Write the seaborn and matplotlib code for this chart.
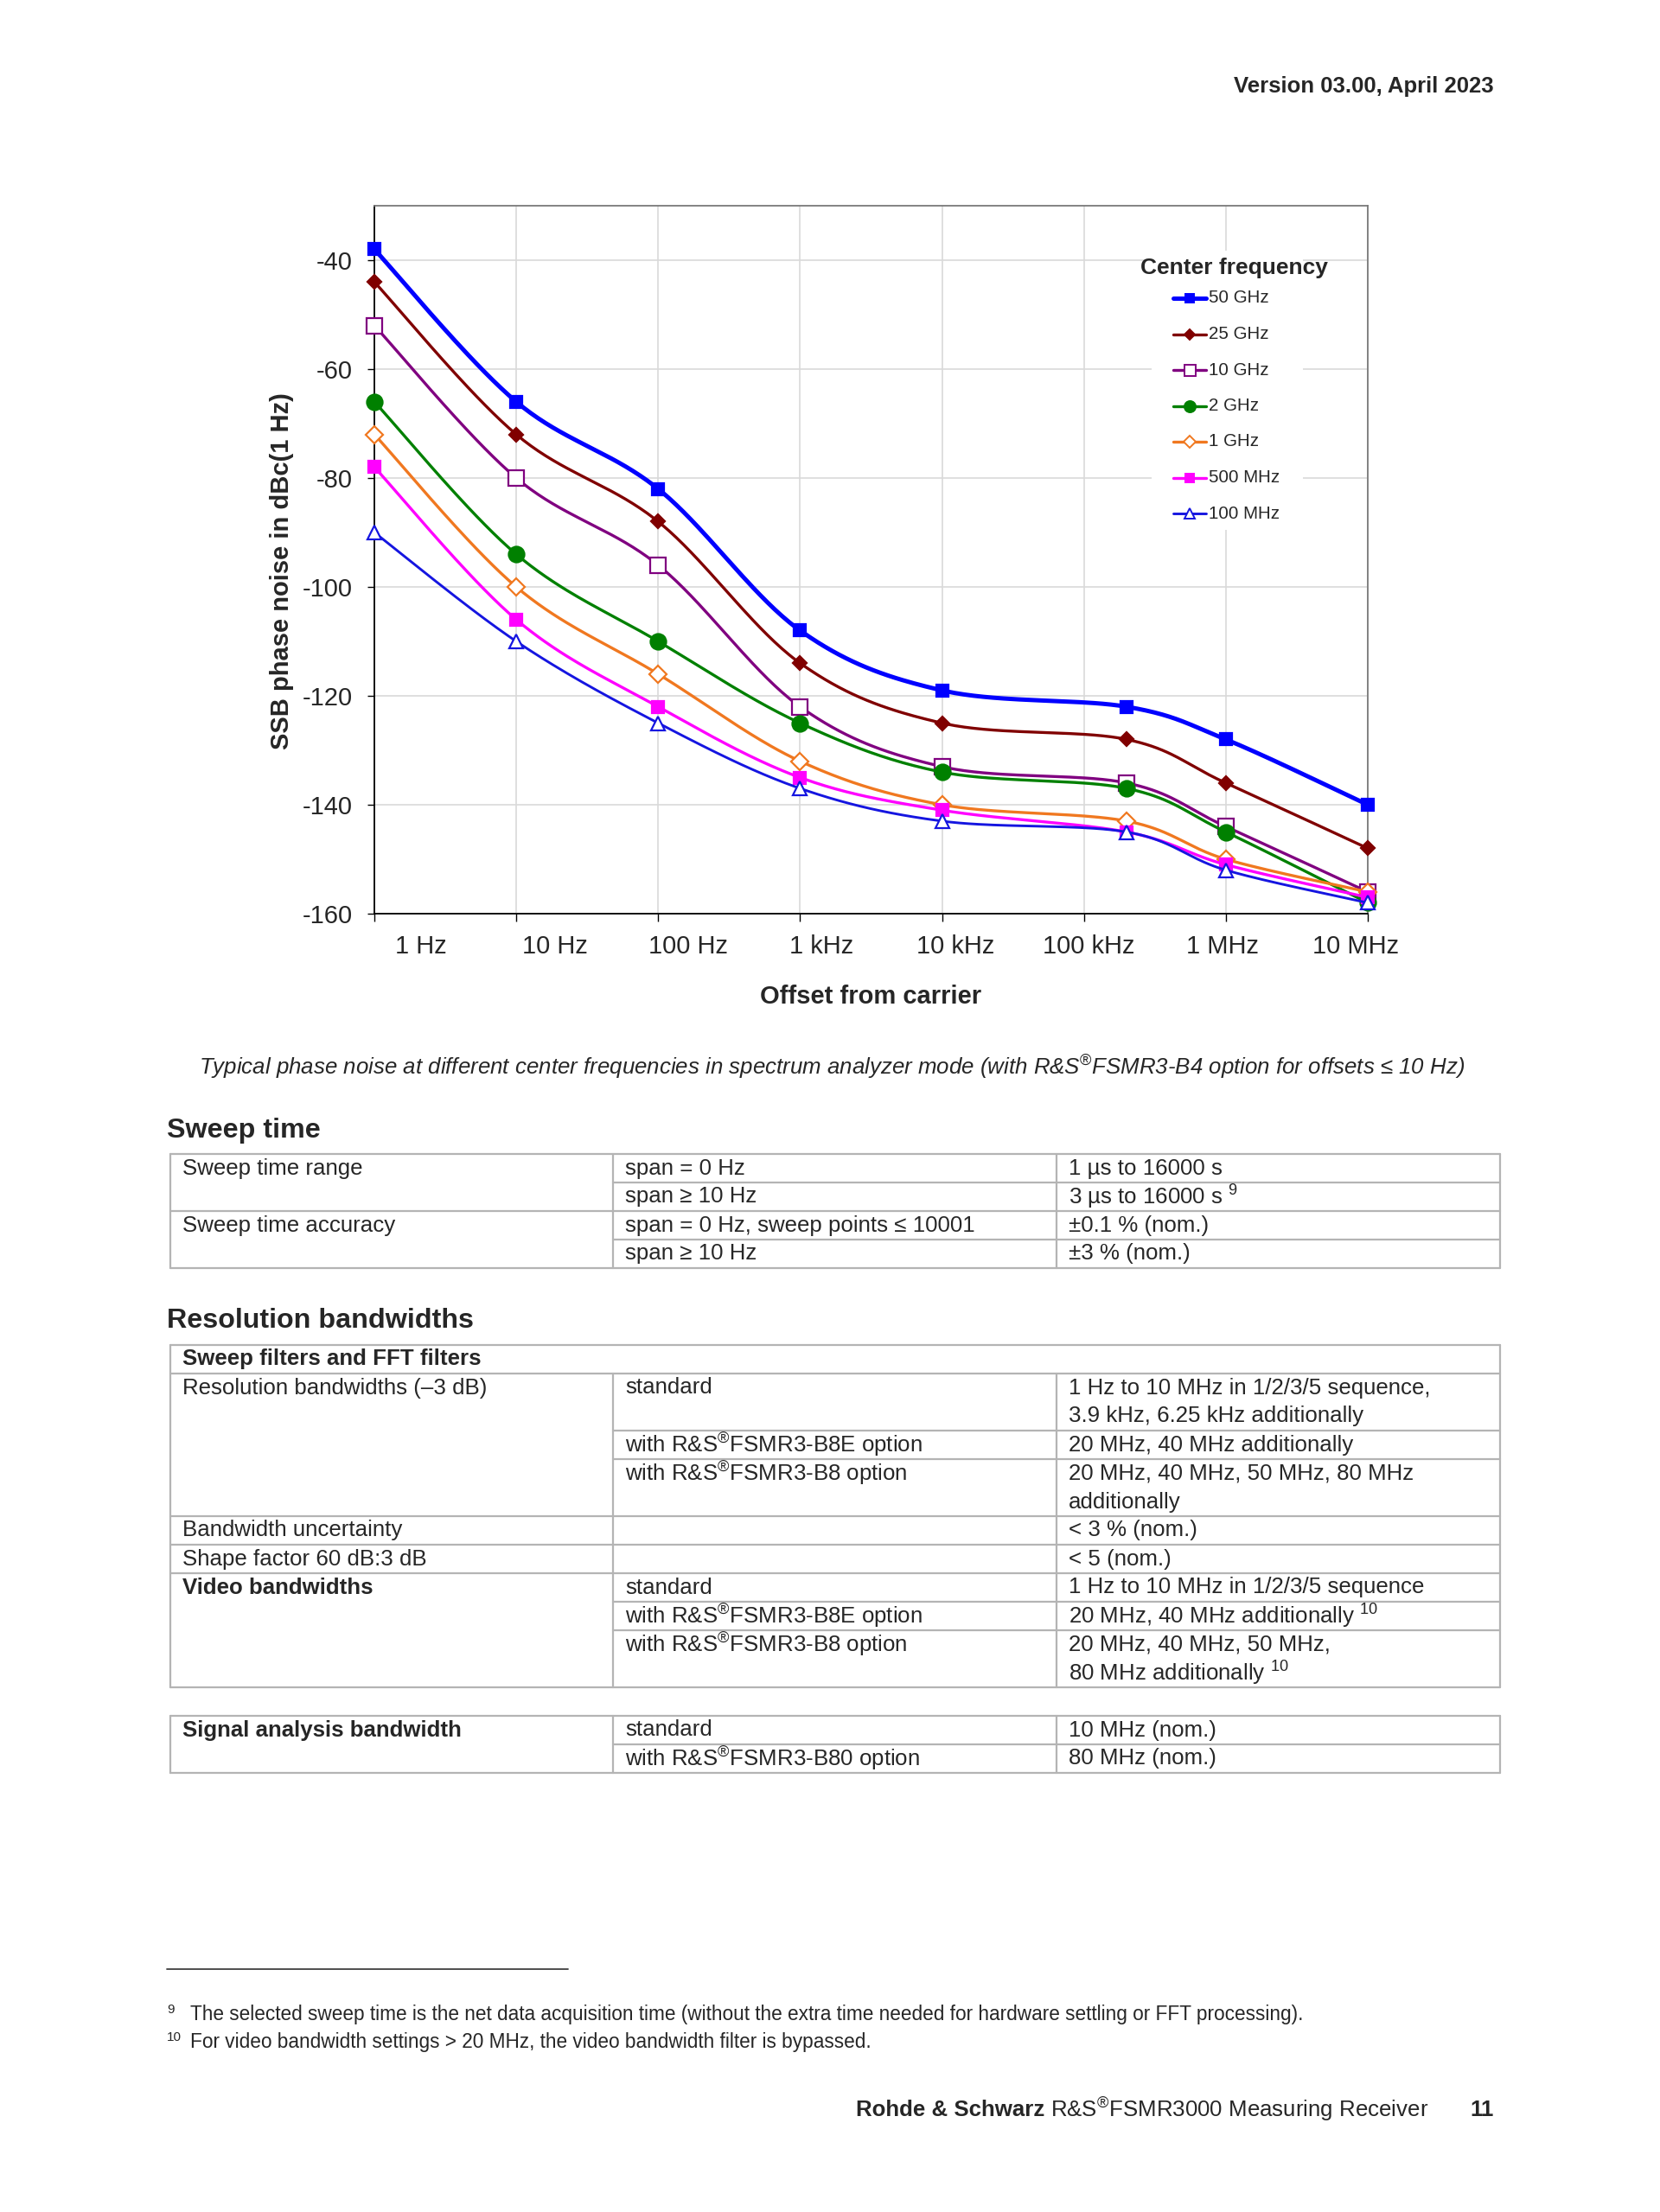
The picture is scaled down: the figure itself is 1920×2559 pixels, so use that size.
import numpy as np
import pandas as pd
import matplotlib
matplotlib.use("Agg")
import matplotlib.pyplot as plt
import matplotlib.transforms as mtransforms
from matplotlib.lines import Line2D
from matplotlib.patches import Rectangle
import seaborn as sns

# phase noise data
offsets = [1, 10, 100, 1e3, 1e4, 2e5, 1e6, 1e7]
freq_names = ["50 GHz", "25 GHz", "10 GHz", "2 GHz", "1 GHz", "500 MHz", "100 MHz"]
noise_50ghz = [-38, -66, -82, -108, -119, -122, -128, -140]
noise_25ghz = [-44, -72, -88, -114, -125, -128, -136, -148]
noise_10ghz = [-52, -80, -96, -122, -133, -136, -144, -156]
noise_2ghz = [-66, -94, -110, -125, -134, -137, -145, -158]
noise_1ghz = [-72, -100, -116, -132, -140, -143, -150, -156]
noise_500mhz = [-78, -106, -122, -135, -141, -145, -151, -157]
noise_100mhz = [-90, -110, -125, -137, -143, -145, -152, -158]
all_noise = [noise_50ghz, noise_25ghz, noise_10ghz, noise_2ghz, noise_1ghz, noise_500mhz, noise_100mhz]

decades = [1, 10, 100, 1e3, 1e4, 1e5, 1e6, 1e7]
tick_names = ["1 Hz", "10 Hz", "100 Hz", "1 kHz", "10 kHz", "100 kHz", "1 MHz", "10 MHz"]
y_ticks = [-40, -60, -80, -100, -120, -140, -160]

# styles: color, line width, marker, marker size, filled
styles = [
    ("#0000FF", 3.6, "s", 10.5, True),
    ("#800000", 2.4, "D", 8.5, True),
    ("#800080", 2.4, "s", 13, False),
    ("#008000", 2.4, "o", 13, True),
    ("#F07820", 2.4, "D", 10.5, False),
    ("#FF00FF", 2.4, "s", 10.5, True),
    ("#1515E0", 2.1, "^", 12, False),
]

# page text
header_text = "Version 03.00, April 2023"
caption = ("Typical phase noise at different center frequencies in spectrum analyzer mode "
           "(with R&S$^{\\mathrm{®}}$FSMR3-B4 option for offsets ≤ 10 Hz)")

sweep_rows = [
    ("Sweep time range", [("span = 0 Hz", "1 µs to 16000 s"),
                          ("span ≥ 10 Hz", "3 µs to 16000 s $^{9}$")]),
    ("Sweep time accuracy", [("span = 0 Hz, sweep points ≤ 10001", "±0.1 % (nom.)"),
                             ("span ≥ 10 Hz", "±3 % (nom.)")]),
]
rbw_rows = [
    ("Resolution bandwidths (–3 dB)", False,
     [("standard", "1 Hz to 10 MHz in 1/2/3/5 sequence,\n3.9 kHz, 6.25 kHz additionally"),
      ("with R&S$^{\\mathrm{®}}$FSMR3-B8E option", "20 MHz, 40 MHz additionally"),
      ("with R&S$^{\\mathrm{®}}$FSMR3-B8 option", "20 MHz, 40 MHz, 50 MHz, 80 MHz\nadditionally")]),
    ("Bandwidth uncertainty", False, [("", "< 3 % (nom.)")]),
    ("Shape factor 60 dB:3 dB", False, [("", "< 5 (nom.)")]),
    ("Video bandwidths", True,
     [("standard", "1 Hz to 10 MHz in 1/2/3/5 sequence"),
      ("with R&S$^{\\mathrm{®}}$FSMR3-B8E option", "20 MHz, 40 MHz additionally $^{10}$"),
      ("with R&S$^{\\mathrm{®}}$FSMR3-B8 option", "20 MHz, 40 MHz, 50 MHz,\n80 MHz additionally $^{10}$")]),
]
sab_rows = [
    ("Signal analysis bandwidth", True,
     [("standard", "10 MHz (nom.)"),
      ("with R&S$^{\\mathrm{®}}$FSMR3-B80 option", "80 MHz (nom.)")]),
]
footnotes = [("9", "The selected sweep time is the net data acquisition time (without the extra time needed for hardware settling or FFT processing)."),
             ("10", "For video bandwidth settings > 20 MHz, the video bandwidth filter is bypassed.")]

sns.set_style("white")
plt.rcParams["font.family"] = ["Liberation Sans", "DejaVu Sans"]
plt.rcParams["axes.unicode_minus"] = False
plt.rcParams["mathtext.fontset"] = "custom"
plt.rcParams["mathtext.rm"] = "Liberation Sans"
plt.rcParams["mathtext.it"] = "Liberation Sans:italic"
plt.rcParams["mathtext.bf"] = "Liberation Sans:bold"

W, H = 1920, 2559
fig = plt.figure(figsize=(W / 100, H / 100), dpi=100)
fig.patch.set_facecolor("white")
# page pixel transform (origin top-left)
px = mtransforms.Affine2D().scale(1 / W, -1 / H).translate(0, 1) + fig.transFigure

ax_l, ax_r, ax_t, ax_b = 433, 1582, 238, 1057
ax = fig.add_axes([ax_l / W, 1 - ax_b / H, (ax_r - ax_l) / W, (ax_b - ax_t) / H])
ax.set_xscale("log")
ax.set_xlim(1, 1e7)
ax.set_ylim(-160, -30)


def smooth(xs, ys, n=40):
    # excel-like smoothed line (bezier through points)
    P = np.column_stack([np.log10(xs) * 164.0, np.asarray(ys, float) * 6.3])
    Pp = np.vstack([P[0], P, P[-1]])
    t = np.linspace(0, 1, n)[:, None]
    out = []
    for i in range(len(P) - 1):
        p0, p1, p2, p3 = Pp[i], Pp[i + 1], Pp[i + 2], Pp[i + 3]
        c1 = p1 + (p2 - p0) / 6
        c2 = p2 - (p3 - p1) / 6
        seg = (1 - t) ** 3 * p1 + 3 * (1 - t) ** 2 * t * c1 + 3 * (1 - t) * t ** 2 * c2 + t ** 3 * p2
        out.append(seg if i == 0 else seg[1:])
    c = np.vstack(out)
    return 10 ** (c[:, 0] / 164.0), c[:, 1] / 6.3


for k, (name, vals, st) in enumerate(zip(freq_names, all_noise, styles)):
    color, lw, mk, ms, filled = st
    sx, sy = smooth(offsets, vals)
    curve = pd.DataFrame({"offset": sx, "noise": sy})
    sns.lineplot(data=curve, x="offset", y="noise", color=color, lw=lw, sort=False,
                 estimator=None, ax=ax, zorder=3 + k)
    ax.plot(offsets, vals, ls="none", marker=mk, ms=ms, mec=color,
            mfc=color if filled else "white", mew=1.6, zorder=3.5 + k, clip_on=False)

ax.set_xticks(decades, labels=[""] * len(decades))
label_pos = [10 ** (0.33 + 0.941 * i) for i in range(len(tick_names))]
ax.set_xticks(label_pos, labels=tick_names, minor=True)
ax.set_yticks(y_ticks)
ax.tick_params(axis="x", which="major", direction="out", length=6.5, width=1, color="black", bottom=True)
ax.tick_params(axis="x", which="minor", length=0, pad=17, labelsize=21)
ax.tick_params(axis="y", direction="out", length=6, width=1, color="black", left=True, pad=12, labelsize=21)
ax.grid(True, which="major", color="#d9d9d9", lw=1.2)
ax.grid(False, which="minor")
ax.set_axisbelow(True)
for side in ["left", "bottom"]:
    ax.spines[side].set_color("black")
    ax.spines[side].set_linewidth(1.3)
for side in ["top", "right"]:
    ax.spines[side].set_color("#7a7a7a")
    ax.spines[side].set_linewidth(1.3)
ax.set_xlabel("Offset from carrier", fontsize=21, fontweight="bold")
ax.set_ylabel("SSB phase noise in dBc(1 Hz)", fontsize=21, fontweight="bold")
ax.xaxis.set_label_coords(0.5, -0.10)
ax.yaxis.set_label_coords(-0.081, 0.4835)

# legend
ax.add_patch(Rectangle((1332, 290), 175, 323, transform=px, facecolor="white",
                       edgecolor="none", zorder=20, clip_on=False))
ax.text(1427, 310, "Center frequency", transform=px, fontsize=19, fontweight="bold",
        ha="center", va="center", zorder=21)
for k, (name, st) in enumerate(zip(freq_names, styles)):
    color, lw, mk, ms, filled = st
    yy = 345 + 41.5 * k
    ax.add_line(Line2D([1357, 1395], [yy, yy], transform=px, color=color, lw=lw,
                       zorder=21, clip_on=False))
    ax.add_line(Line2D([1376], [yy], transform=px, ls="none", marker=mk, ms=ms * 0.72,
                       mec=color, mfc=color if filled else "white", mew=1.4,
                       zorder=22, clip_on=False))
    ax.text(1398, yy, name, transform=px, fontsize=14.8, ha="left", va="center", zorder=22)

# page header / caption
fig.text(1728, 100, header_text, transform=px, fontsize=18.5, fontweight="bold", ha="right", va="center")
fig.text(962, 1235, caption, transform=px, fontsize=18.6, fontstyle="italic", ha="center", va="center")

BODY = 18.6
LINE = 33.0
c0, c1, c2, c3 = 197, 709, 1222, 1735
GRID = "#b4b4b4"


def hline(y, x0, x1):
    fig.add_artist(Line2D([x0, x1], [y, y], transform=px, color=GRID, lw=1.6))


def vline(x, y0, y1):
    fig.add_artist(Line2D([x, x], [y0, y1], transform=px, color=GRID, lw=1.6))


def cell(x, y, txt, bold=False):
    for j, line in enumerate(txt.split("\n")):
        fig.text(x + 14, y + LINE / 2 + j * LINE, line, transform=px, fontsize=BODY,
                 fontweight="bold" if bold else "normal", ha="left", va="center")


def draw_groups(groups, top):
    y = top
    for first, bold, subs in groups:
        cell(c0, y, first, bold)
        for s, (a, b) in enumerate(subs):
            n = max(a.count("\n"), b.count("\n")) + 1
            cell(c1, y, a)
            cell(c2, y, b)
            y += n * LINE
            if s < len(subs) - 1:
                hline(y, c1, c3)
        hline(y, c0, c3)
    return y


# sweep time
fig.text(193, 1308, "Sweep time", transform=px, fontsize=23.2, fontweight="bold", ha="left", va="center")
t1 = 1335
hline(t1, c0, c3)
end1 = draw_groups([(a, False, b) for a, b in sweep_rows], t1)
for x in [c0, c1, c2, c3]:
    vline(x, t1, end1)

# resolution bandwidths
fig.text(193, 1528, "Resolution bandwidths", transform=px, fontsize=23.2, fontweight="bold", ha="left", va="center")
t2 = 1556
hline(t2, c0, c3)
cell(c0, t2, "Sweep filters and FFT filters", bold=True)
hline(t2 + LINE, c0, c3)
end2 = draw_groups(rbw_rows, t2 + LINE)
for x in [c0, c3]:
    vline(x, t2, end2)
for x in [c1, c2]:
    vline(x, t2 + LINE, end2)

t3 = 1985
hline(t3, c0, c3)
end3 = draw_groups(sab_rows, t3)
for x in [c0, c1, c2, c3]:
    vline(x, t3, end3)

# footnotes
fig.add_artist(Line2D([193, 657], [2278, 2278], transform=px, color="#404040", lw=1.3))
for j, (num, txt) in enumerate(footnotes):
    yy = 2331 + 32 * j
    fig.text(193, yy - 6, num, transform=px, fontsize=11, ha="left", va="center")
    fig.text(220, yy, txt, transform=px, fontsize=16.3, ha="left", va="center")

# footer: bold company name followed by product name
brand = fig.text(990, 2441, "Rohde & Schwarz", transform=px, fontsize=18.6, fontweight="bold",
                 ha="left", va="center")
fig.canvas.draw()
bb = brand.get_window_extent()
fig.text(bb.x1 + 7, H - 2441, "R&S$^{\\mathrm{®}}$FSMR3000 Measuring Receiver", transform=None,
         fontsize=18.6, ha="left", va="center")
fig.text(1728, 2441, "11", transform=px, fontsize=18.6, fontweight="bold", ha="right", va="center")

fig.savefig("out.png", dpi=100, facecolor="white")
